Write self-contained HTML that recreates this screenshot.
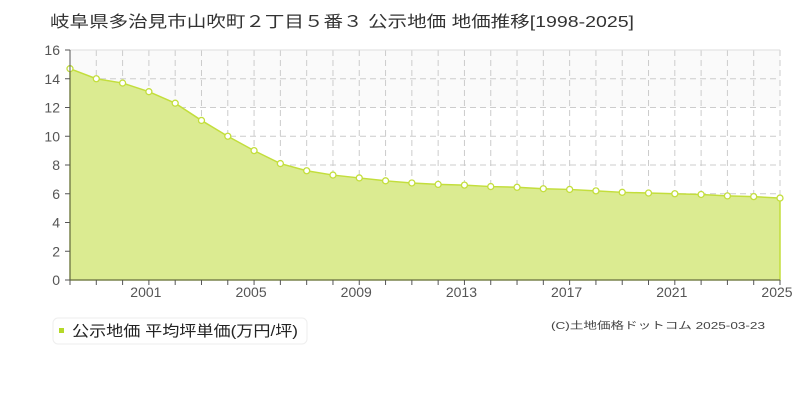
<!DOCTYPE html>
<html><head><meta charset="utf-8"><style>
body{margin:0;width:800px;height:400px;background:#fff;overflow:hidden}
svg{display:block}
text{font-family:"Liberation Sans","Noto Sans CJK JP",sans-serif}
</style></head><body>
<svg width="800" height="400" viewBox="0 0 800 400">
<text x="50" y="27" font-size="16" fill="#333" textLength="584" lengthAdjust="spacingAndGlyphs">岐阜県多治見市山吹町２丁目５番３ 公示地価 地価推移[1998-2025]</text>
<rect x="70" y="50" width="710" height="57.5" fill="#fafafa"/>
<g id="g"></g>
<path id="area" fill="#dbeb91" stroke="#c3de3c" stroke-width="1.5"/>
<g id="pts"></g>
<line x1="70" y1="50" x2="70" y2="280" stroke="#555"/>
<line x1="70" y1="280" x2="780" y2="280" stroke="#555"/>
<g id="ax" font-size="14" fill="#555"></g>
<rect x="53" y="318" width="254" height="26" rx="5" fill="#fff" stroke="#eee"/>
<rect x="59" y="328" width="5" height="5" fill="#b5d929"/>
<text x="72" y="336" font-size="15" fill="#222" textLength="226" lengthAdjust="spacingAndGlyphs">公示地価 平均坪単価(万円/坪)</text>
<text x="551" y="329" font-size="10" fill="#444" textLength="214" lengthAdjust="spacingAndGlyphs">(C)土地価格ドットコム 2025-03-23</text>
</svg>
<script>
const v=[14.7,14.0,13.7,13.1,12.3,11.1,10.0,9.0,8.1,7.6,7.3,7.1,6.9,6.75,6.65,6.6,6.5,6.45,6.35,6.3,6.2,6.1,6.05,6.0,5.95,5.85,5.8,5.7];
const X=i=>70+i*710/27,Y=u=>280-u*230/16,ns="http://www.w3.org/2000/svg";
function el(p,t,a,txt){const e=document.createElementNS(ns,t);for(const k in a)e.setAttribute(k,a[k]);if(txt)e.textContent=txt;document.getElementById(p).appendChild(e);}
for(let i=1;i<=27;i++)el("g","line",{x1:X(i),y1:50,x2:X(i),y2:280,stroke:"#ccc","stroke-dasharray":"6,4"});
for(let u=2;u<=16;u+=2)el("g","line",{x1:70,y1:Y(u),x2:780,y2:Y(u),stroke:u==16?"#ddd":"#ccc","stroke-dasharray":u==16?"":"6,4"});
let d="M70,280";v.forEach((u,i)=>d+=" L"+X(i)+","+Y(u));d+=" L780,280Z";
document.getElementById("area").setAttribute("d",d);
v.forEach((u,i)=>el("pts","circle",{cx:X(i),cy:Y(u),r:3,fill:"#fff",stroke:"#c3de3c","stroke-width":1.3}));
for(let u=0;u<=16;u+=2){el("ax","text",{x:60,y:Y(u)+5,"text-anchor":"end"},""+u);el("ax","line",{x1:65,y1:Y(u),x2:70,y2:Y(u),stroke:"#555"});}
for(let i=0;i<=27;i++)el("ax","line",{x1:X(i),y1:280,x2:X(i),y2:285,stroke:"#555"});
for(let y=2001;y<=2025;y+=4)el("ax","text",{x:X(y-1998)-3,y:297,"text-anchor":"middle"},""+y);
</script>
</body></html>
